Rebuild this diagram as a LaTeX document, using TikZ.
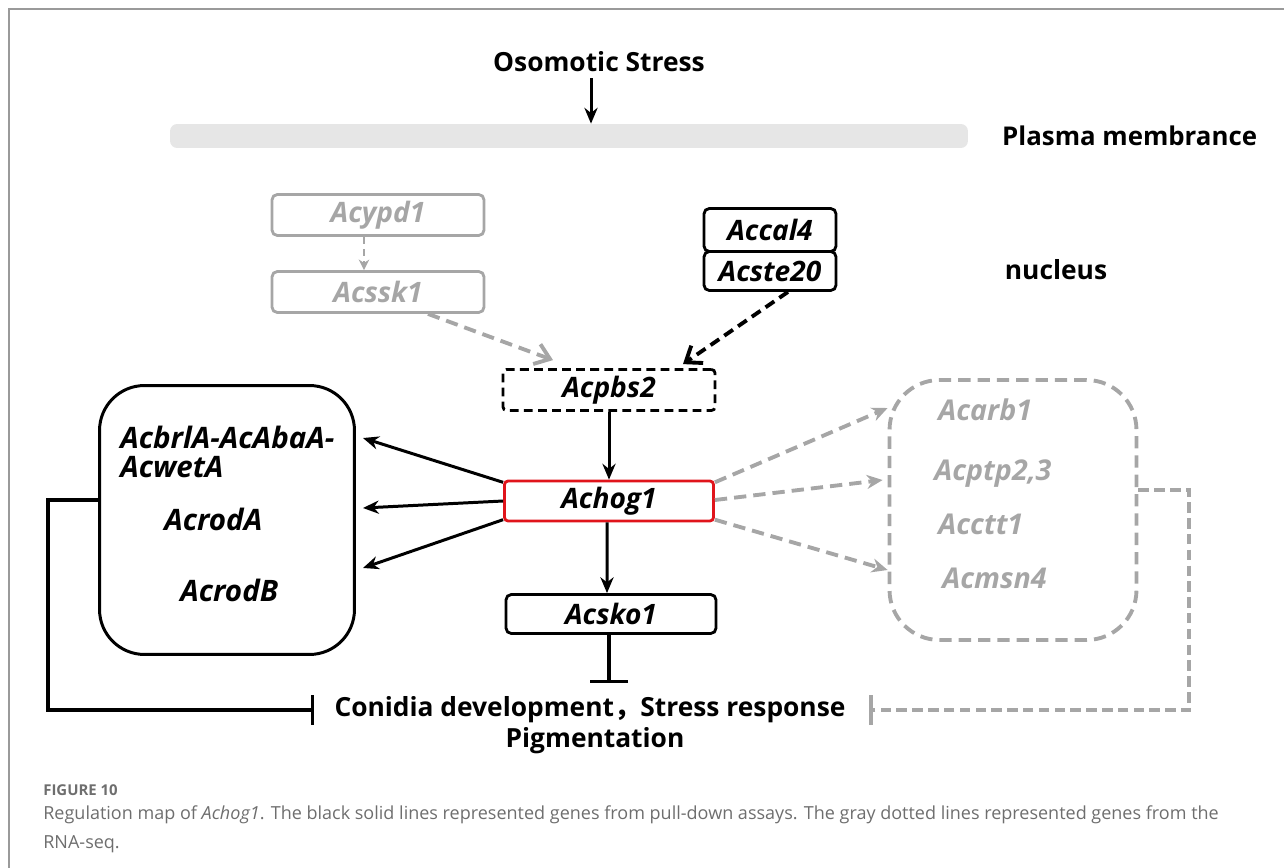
\documentclass[tikz,border=0pt]{standalone}
\usepackage{fontspec}
\setmainfont{Open Sans}
\newfontfamily\cjk{Noto Sans CJK SC}
\usetikzlibrary{arrows.meta,positioning,calc}
\definecolor{lightgene}{HTML}{A6A6A6}
\definecolor{hogred}{HTML}{E0141B}
\definecolor{membrane}{HTML}{E6E6E6}
\definecolor{captiongray}{HTML}{6E6E6E}
\definecolor{framegray}{HTML}{9A9A9A}

\begin{document}
\begin{tikzpicture}[x=0.02cm, y=-0.02cm,
    gene/.style={draw, line width=1.6pt, rounded corners=3pt, minimum width=4.24cm, minimum height=0.82cm, inner sep=0pt, font=\fontsize{16}{18}\selectfont\bfseries\itshape},
    greygene/.style={gene, draw=lightgene, text=lightgene},
    label/.style={font=\fontsize{15}{18}\selectfont\bfseries},
    inlist/.style={anchor=west, inner sep=0pt, align=left, font=\fontsize{16.8}{16.5}\selectfont\bfseries\itshape},
    act/.style={line width=1.7pt, -{Stealth[length=9pt, width=7.5pt]}},
    greyact/.style={draw=lightgene, line width=2.2pt, dash pattern=on 7pt off 4pt, -{Stealth[length=9pt, width=8pt]}},
    inhibit/.style={line width=1.8pt, -{Bar[width=0.6cm]}}
]
    \useasboundingbox (0,0) rectangle (1284,868);
    \draw[framegray, line width=1.2pt] (9,868) -- (9,9) -- (1284,9);

    % membrane and signal
    \node [label] (stress) at (599,62) {Osomotic Stress};
    \node [fill=membrane, rounded corners=4pt, minimum width=15.96cm, minimum height=0.48cm, inner sep=0pt] (mem) at (569,136) {};
    \node [label, anchor=west, font=\fontsize{14.7}{18}\selectfont\bfseries] (memlabel) at (996,136) {Plasma membrance};
    \node [label] (nucleus) at (1056,270) {nucleus};
    \draw [act] ([xshift=-0.16cm]stress.south) -- ([xshift=-0.16cm]stress.south |- mem.north);

    % upstream kinases
    \node [greygene] (ypd) at (378,215) {Acypd1};
    \node [greygene] (ssk) at (378,292) {Acssk1};
    \node [gene, minimum width=2.64cm, minimum height=0.86cm] (cal) at (770,230) {Accal4};
    \node [gene, minimum width=2.64cm, minimum height=0.78cm] (ste) at (770,271) {Acste20};
    \node [gene, dash pattern=on 5pt off 3pt, rounded corners=2pt] (pbs) at (609,390) {Acpbs2};
    \node [gene, draw=hogred, minimum width=4.18cm, minimum height=0.8cm, rounded corners=2pt] (hog) at (609,501) {Achog1};
    \node [gene, minimum width=4.2cm, minimum height=0.78cm] (sko) at (611,614) {Acsko1};

    \draw [greyact, line width=1.6pt, dash pattern=on 4pt off 3pt, -{Stealth[length=6pt, width=6pt]}] ([xshift=-0.28cm]ypd.south) -- ([xshift=-0.28cm]ssk.north);
    \draw [greyact, -{Straight Barb[length=8pt, width=12pt]}] ([xshift=1cm]ssk.south) -- ([xshift=-1.12cm, yshift=0.16cm]pbs.north);
    \draw [line width=2.2pt, dash pattern=on 6pt off 3.5pt, -{Straight Barb[length=8pt, width=12pt]}] ([xshift=0.36cm]ste.south) -- ([xshift=1.48cm, yshift=0.08cm]pbs.north);
    \draw [act] (pbs.south) -- (hog.north);
    \draw [act] ([xshift=-0.04cm]hog.south) -- ([xshift=-0.08cm]sko.north);

    % pull-down targets
    \node [draw, line width=1.7pt, rounded corners=0.9cm, minimum width=5.1cm, minimum height=5.38cm] (lbox) at (227,520) {};
    \node [inlist] (brl) at (120,452) {AcbrlA-AcAbaA-\\AcwetA};
    \node [inlist] (roda) at (164,519) {AcrodA};
    \node [inlist] (rodb) at (180,590) {AcrodB};
    \draw [act] (hog.170) -- ([xshift=0.14cm, yshift=1.64cm]lbox.east);
    \draw [act] (hog.west) -- ([xshift=0.14cm, yshift=0.24cm]lbox.east);
    \draw [act] (hog.190) -- ([xshift=0.14cm, yshift=-0.96cm]lbox.east);

    % RNA-seq targets
    \node [draw=lightgene, line width=2.2pt, dash pattern=on 7pt off 4pt, rounded corners=1cm, minimum width=4.94cm, minimum height=5.2cm] (rbox) at (1013,510) {};
    \node [inlist, text=lightgene, font=\fontsize{16.3}{18}\selectfont\bfseries\itshape] (arb) at (938,410) {Acarb1};
    \node [inlist, text=lightgene, font=\fontsize{16.3}{18}\selectfont\bfseries\itshape] (ptp) at (934,474) {Acptp2,3};
    \node [inlist, text=lightgene, font=\fontsize{16.3}{18}\selectfont\bfseries\itshape] (ctt) at (938,524) {Acctt1};
    \node [inlist, text=lightgene, font=\fontsize{16.3}{18}\selectfont\bfseries\itshape] (msn) at (942,578) {Acmsn4};
    \draw [greyact] (hog.10) -- ([yshift=2.04cm]rbox.west);
    \draw [greyact] ([yshift=0.02cm]hog.east) -- ([xshift=-0.1cm, yshift=0.6cm]rbox.west);
    \draw [greyact] (hog.-10) -- ([yshift=-1.2cm]rbox.west);

    % phenotypes
    \node [label, inner sep=0pt] (pheno) at (590,710) {Conidia development{\cjk ，}Stress response};
    \node [label, inner sep=0pt] (pig) at (595,741) {Pigmentation};
    \draw [line width=2pt, -{Bar[width=0.76cm]}] ([xshift=-0.04cm]sko.south) -- ([xshift=-0.04cm, yshift=0.26cm]sko.south |- pheno.north);
    \draw [inhibit] ([yshift=0.4cm]lbox.west) -- ++(-50,0) |- ([xshift=-0.4cm]pheno.west);
    \draw [inhibit, draw=lightgene, line width=2.2pt, dash pattern=on 6pt off 3pt] ([yshift=0.4cm]rbox.east) -- ++(51,0) |- ([xshift=0.46cm]pheno.east);

    % caption
    \node [anchor=west, inner sep=0pt, text=captiongray, font=\fontsize{8.5}{10}\selectfont\bfseries] (figno) at (43,790) {FIGURE 10};
    \node [anchor=north west, inner sep=0pt, align=left, text=captiongray, font=\fontsize{10.25}{16.5}\selectfont] (caption) at (43,805) {Regulation map of \textit{Achog1}. The black solid lines represented genes from pull-down assays. The gray dotted lines represented genes from the\\RNA-seq.};
\end{tikzpicture}
\end{document}
